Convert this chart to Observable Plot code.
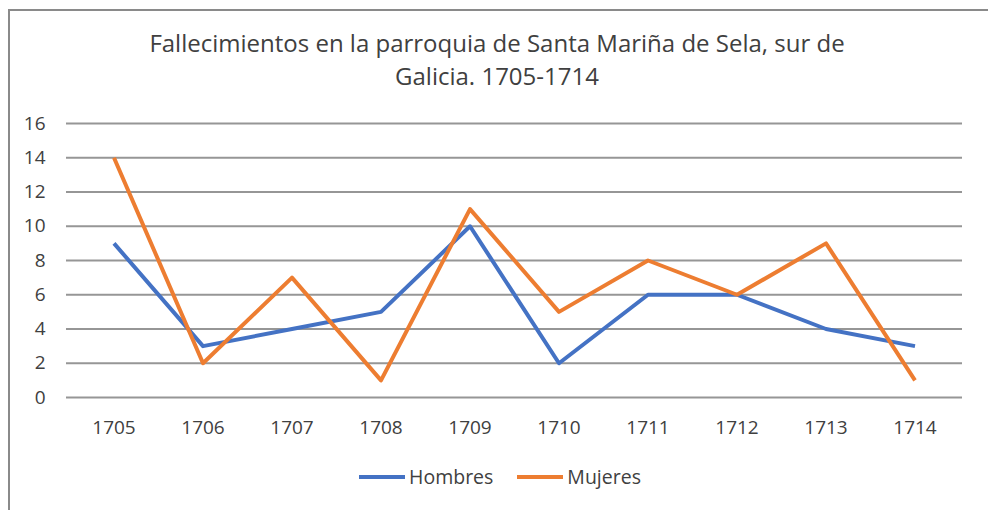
<!DOCTYPE html>
<html><head><meta charset="utf-8">
<script src="https://cdn.jsdelivr.net/npm/d3@7"></script>
<script src="https://cdn.jsdelivr.net/npm/@observablehq/plot@0.6"></script>
<style>
body{margin:0;background:#fff;font-family:"Open Sans",Lato,sans-serif;}
#frame{position:absolute;left:8px;top:9px;width:980px;height:501px;border-left:2px solid #8a8a8a;border-top:2px solid #8a8a8a;box-sizing:border-box;}
#title{position:absolute;left:0;top:26px;width:994px;text-align:center;font-size:24px;line-height:33px;color:#404040;}
#chart{position:absolute;left:0;top:100px;}
#legend{position:absolute;top:464px;left:0;width:1000px;display:flex;justify-content:center;gap:24px;font-size:19.5px;line-height:26px;color:#404040;}
#legend span{display:flex;align-items:center;}
#legend i{display:inline-block;width:46px;height:4px;margin-right:4px;}
</style></head><body>
<div id="frame"></div>
<div id="title">Fallecimientos en la parroquia de Santa Mariña de Sela, sur de<br>Galicia. 1705-1714</div>
<div id="chart"></div>
<div id="legend"></div>
<script>
const years = ["1705","1706","1707","1708","1709","1710","1711","1712","1713","1714"];
const hombres = [9,3,4,5,10,2,6,6,4,3];
const mujeres = [14,2,7,1,11,5,8,6,9,1];
const series = ["Hombres","Mujeres"];
const colors = ["#4472C4","#ED7D31"];
const yTicks = [0,2,4,6,8,10,12,14,16];

const data = [
  ...years.map((y,i)=>({year:y,value:hombres[i],serie:"Hombres"})),
  ...years.map((y,i)=>({year:y,value:mujeres[i],serie:"Mujeres"}))
];

const chart = Plot.plot({
  width: 988, height: 345,
  marginTop: 23, marginBottom: 48, marginLeft: 66, marginRight: 26,
  style: {fontFamily: '"Open Sans",Lato,sans-serif', fontSize: "19px", color: "#404040", background: "transparent"},
  x: {type: "band", domain: years, padding: 0, label: null},
  y: {domain: [0,16], ticks: yTicks, label: null},
  color: {domain: series, range: colors},
  marks: [
    Plot.ruleY(yTicks, {stroke: "#969696", strokeWidth: 1.8}),
    Plot.axisY(yTicks, {tickSize: 0, tickPadding: 21, label: null, fontSize: 19}),
    Plot.axisX({tickSize: 0, tickPadding: 23, label: null, fontSize: 19}),
    Plot.line(data, {x: "year", y: "value", stroke: "serie", z: "serie", strokeWidth: 4, strokeLinejoin: "round", strokeLinecap: "butt"})
  ]
});
document.getElementById("chart").appendChild(chart);

const leg = document.getElementById("legend");
series.forEach((s,i)=>{
  const sp = document.createElement("span");
  sp.innerHTML = `<i style="background:${colors[i]}"></i>${s}`;
  leg.appendChild(sp);
});
</script>
</body></html>
